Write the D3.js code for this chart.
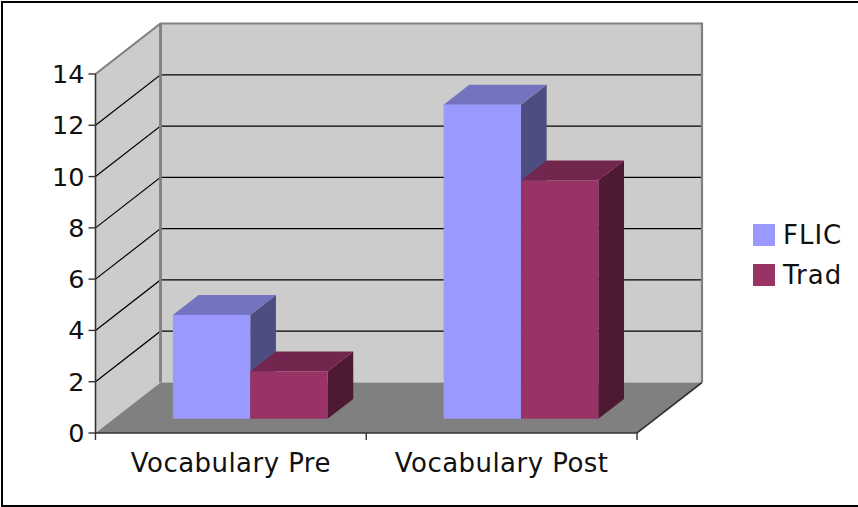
<!DOCTYPE html>
<html>
<head>
<meta charset="utf-8">
<script src="https://cdn.jsdelivr.net/npm/d3@7"></script>
<style>
  html, body { margin: 0; padding: 0; background: #fff; }
  svg { display: block; }
  text { font-family: "DejaVu Sans", sans-serif; fill: #111; }
</style>
</head>
<body>
<div id="chart"></div>
<script>
var categories = ["Vocabulary Pre", "Vocabulary Post"];
var seriesNames = ["FLIC", "Trad"];
var flicValues = [4.05, 12.25];
var tradValues = [1.85, 9.3];
var tickValues = [0, 2, 4, 6, 8, 10, 12, 14];

var seriesValues = [flicValues, tradValues];
var seriesColors = [
  { front: "#9999ff", top: "#7373bf", side: "#4d4d80" },
  { front: "#993366", top: "#73264d", side: "#4d1933" }
];

var width = 858, height = 507;

var svg = d3.select("#chart").append("svg")
  .attr("width", width)
  .attr("height", height);

var line = d3.line();

// outer border, open on the right like the source image
svg.append("path")
  .attr("d", line([[858, 2], [2, 2], [2, 506], [858, 506]]))
  .attr("fill", "none")
  .attr("stroke", "#000")
  .attr("stroke-width", 2);

var xScale = d3.scaleBand()
  .domain(categories)
  .range([95.5, 637]);

var seriesScale = d3.scaleBand()
  .domain(seriesNames)
  .range([0, xScale.bandwidth()])
  .paddingOuter(0.75)
  .paddingInner(0)
  .align(0.51);

var yScale = d3.scaleLinear()
  .domain([0, 14])
  .range([433, 74]);

// depth runs 0 (front of floor) to 1 (back wall)
var depthX = d3.scaleLinear().domain([0, 1]).range([0, 65]);
var depthY = d3.scaleLinear().domain([0, 1]).range([0, -50.5]);

function pt(x, y, z) {
  return [x + depthX(z), y + depthY(z)];
}

function poly(g, pts, fill) {
  return g.append("path")
    .attr("d", line(pts) + "Z")
    .attr("fill", fill);
}

var x0 = xScale.range()[0], x1 = xScale.range()[1];
var yBottom = yScale(0), yTop = yScale(14);

// walls and floor
var walls = svg.append("g");
poly(walls, [pt(x0, yBottom, 1), pt(x1, yBottom, 1), pt(x1, yTop, 1), pt(x0, yTop, 1)], "#cccccc");
poly(walls, [pt(x0, yBottom, 0), pt(x0, yBottom, 1), pt(x0, yTop, 1), pt(x0, yTop, 0)], "#cccccc");
poly(walls, [pt(x0, yBottom, 0), pt(x1, yBottom, 0), pt(x1, yBottom, 1), pt(x0, yBottom, 1)], "#808080");

// gridlines
var grid = svg.append("g");
tickValues.forEach(function(t) {
  if (t == 0 || t == 14) return;
  var a = pt(x0, yScale(t), 0), b = pt(x0, yScale(t), 1), c = pt(x1, yScale(t), 1);
  grid.append("path")
    .attr("d", line([a, b, c]))
    .attr("fill", "none")
    .attr("stroke", "#000")
    .attr("stroke-width", 1.2);
});

// wall edges
var edges = svg.append("g").attr("fill", "none").attr("stroke", "#808080");
edges.append("path")
  .attr("stroke-width", 2.2)
  .attr("d", line([pt(x0, yTop, 0), pt(x0, yTop, 1), pt(x1, yTop, 1), pt(x1, yBottom, 1)]));
edges.append("path")
  .attr("stroke-width", 2.8)
  .attr("d", line([pt(x0, yTop, 1), pt(x0, yBottom, 1)]));

// bars
var zFront = 0.28, zBack = 0.675;
var bars = svg.append("g");
categories.forEach(function(cat, c) {
  seriesNames.forEach(function(name, s) {
    var left = xScale(cat) + seriesScale(name);
    var right = left + seriesScale.bandwidth();
    var top = yScale(seriesValues[s][c]);
    var col = seriesColors[s];
    poly(bars, [pt(right, yBottom, zFront), pt(right, yBottom, zBack), pt(right, top, zBack), pt(right, top, zFront)], col.side);
    poly(bars, [pt(left, top, zFront), pt(right, top, zFront), pt(right, top, zBack), pt(left, top, zBack)], col.top);
    poly(bars, [pt(left, yBottom, zFront), pt(right, yBottom, zFront), pt(right, top, zFront), pt(left, top, zFront)], col.front);
  });
});

// axes
var axisG = svg.append("g").attr("fill", "none").attr("stroke", "#333").attr("stroke-width", 1.6);
axisG.append("path").attr("d", line([[x0, yTop], [x0, yBottom], [x1, yBottom], pt(x1, yBottom, 1)]));

var yAxis = svg.append("g");
tickValues.forEach(function(t) {
  yAxis.append("line")
    .attr("x1", x0 - 7).attr("x2", x0)
    .attr("y1", yScale(t)).attr("y2", yScale(t))
    .attr("stroke", "#333").attr("stroke-width", 1.4);
  yAxis.append("text")
    .attr("x", x0 - 11)
    .attr("y", yScale(t) + 9)
    .attr("text-anchor", "end")
    .attr("font-size", 25.5)
    .text(t);
});

[x0, x0 + xScale.step(), x1].forEach(function(x) {
  svg.append("line")
    .attr("x1", x).attr("x2", x)
    .attr("y1", yBottom).attr("y2", yBottom + 7)
    .attr("stroke", "#333").attr("stroke-width", 1.4);
});

categories.forEach(function(cat) {
  svg.append("text")
    .attr("x", xScale(cat) + xScale.bandwidth() / 2)
    .attr("y", 472)
    .attr("text-anchor", "middle")
    .attr("font-size", 26)
    .style("letter-spacing", "0.45px")
    .text(cat);
});

// legend
var legendY = d3.scalePoint().domain(seriesNames).range([235, 275]);
seriesNames.forEach(function(name, s) {
  svg.append("rect")
    .attr("x", 753).attr("y", legendY(name) - 11)
    .attr("width", 22).attr("height", 22)
    .attr("fill", seriesColors[s].front);
  svg.append("text")
    .attr("x", 783).attr("y", legendY(name) + 9)
    .attr("font-size", 26)
    .style("letter-spacing", "1px")
    .text(name);
});
</script>
</body>
</html>
